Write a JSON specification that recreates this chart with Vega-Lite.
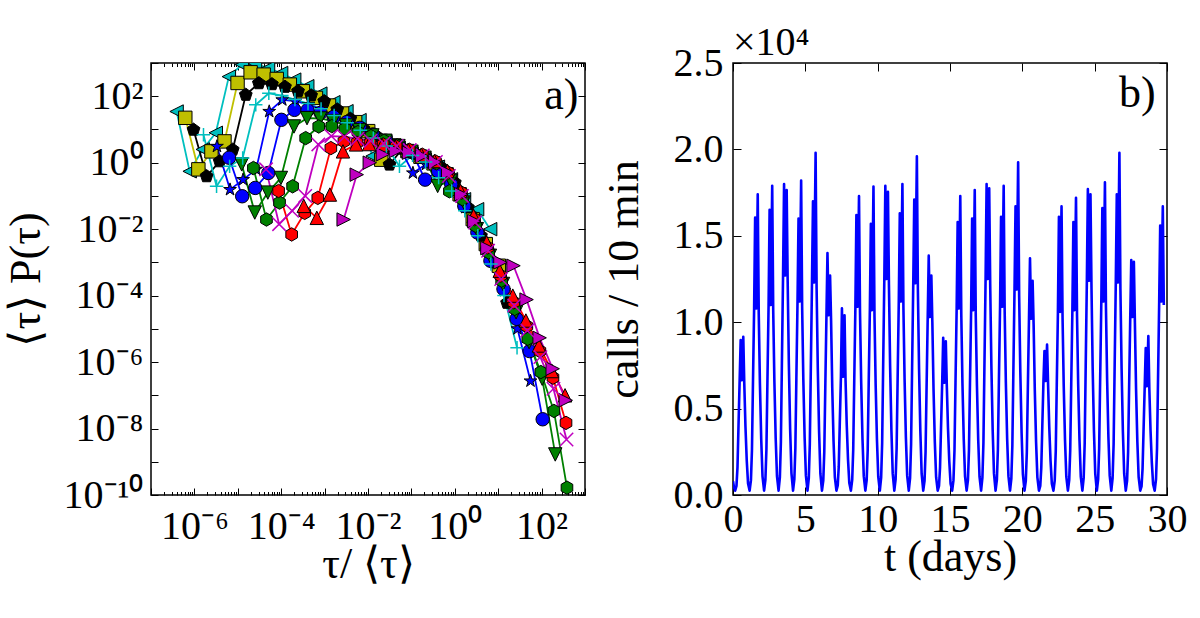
{
"$schema": "https://vega.github.io/schema/vega-lite/v6.json",
"background": "white",
"padding": {"left": 3, "top": 22, "right": 5, "bottom": 5},
"spacing": 148,
"bounds": "flush",
"config": {
  "view": {"stroke": "black", "strokeWidth": 1.5},
  "axis": {"grid": false, "domain": false, "tickColor": "black", "tickWidth": 1, "labelColor": "black", "titleColor": "black", "labelFont": "Liberation Serif", "labelFontSize": 40, "titleFont": "Liberation Serif", "titleFontSize": 44, "titleFontWeight": "normal", "labelOverlap": false, "labelFlush": false, "labelBound": false}
},
"hconcat": [
{
  "width": 434, "height": 432,
  "data": {"values": [
{"s":"ctri","x":3.89e-7,"y":34.7},{"s":"ctri","x":7.78e-7,"y":0.55},{"s":"ctri","x":1.556e-6,"y":2.51},{"s":"ctri","x":3.112e-6,"y":7.94},{"s":"ctri","x":6.224e-6,"y":389},{"s":"ctri","x":1.245e-5,"y":891},{"s":"ctri","x":2.49e-5,"y":955},{"s":"ctri","x":4.979e-5,"y":708},{"s":"ctri","x":9.958e-5,"y":501},{"s":"ctri","x":1.992e-4,"y":316},{"s":"ctri","x":3.983e-4,"y":200},{"s":"ctri","x":7.967e-4,"y":120},{"s":"ctri","x":1.593e-3,"y":66.1},{"s":"ctri","x":3.187e-3,"y":35.5},{"s":"ctri","x":6.373e-3,"y":19.1},{"s":"ctri","x":1.275e-2,"y":1.585},{"s":"ctri","x":2.549e-2,"y":4.17},{"s":"ctri","x":5.099e-2,"y":2.82},{"s":"ctri","x":0.102,"y":1.905},{"s":"ctri","x":0.204,"y":1.259},{"s":"ctri","x":0.408,"y":0.759},{"s":"ctri","x":0.816,"y":0.316},{"s":"ctri","x":1.632,"y":0.0794},{"s":"ctri","x":3.263,"y":0.0398},{"s":"ctri","x":6.527,"y":0.01},
{"s":"ysq","x":6.17e-7,"y":22.4},{"s":"ysq","x":1.234e-6,"y":0.631},{"s":"ysq","x":2.468e-6,"y":2.19},{"s":"ysq","x":4.936e-6,"y":4.37},{"s":"ysq","x":9.872e-6,"y":251},{"s":"ysq","x":1.974e-5,"y":525},{"s":"ysq","x":3.949e-5,"y":447},{"s":"ysq","x":7.898e-5,"y":331},{"s":"ysq","x":1.58e-4,"y":224},{"s":"ysq","x":3.159e-4,"y":141},{"s":"ysq","x":6.318e-4,"y":89.1},{"s":"ysq","x":1.264e-3,"y":52.5},{"s":"ysq","x":2.527e-3,"y":30.2},{"s":"ysq","x":5.054e-3,"y":16.6},{"s":"ysq","x":1.011e-2,"y":8.91},{"s":"ysq","x":2.022e-2,"y":1.23},{"s":"ysq","x":4.044e-2,"y":3.31},{"s":"ysq","x":8.087e-2,"y":2.24},{"s":"ysq","x":0.1617,"y":1.51},{"s":"ysq","x":0.3235,"y":0.955},{"s":"ysq","x":0.647,"y":0.447},{"s":"ysq","x":1.294,"y":0.112},{"s":"ysq","x":2.588,"y":0.02},{"s":"ysq","x":5.176,"y":3.55e-3},{"s":"ysq","x":10.35,"y":7.94e-4},
{"s":"bpent","x":9.55e-7,"y":9.77},{"s":"bpent","x":1.91e-6,"y":0.389},{"s":"bpent","x":3.82e-6,"y":1.096},{"s":"bpent","x":7.64e-6,"y":2.455},{"s":"bpent","x":1.528e-5,"y":110},{"s":"bpent","x":3.056e-5,"y":245},{"s":"bpent","x":6.112e-5,"y":229},{"s":"bpent","x":1.222e-4,"y":191},{"s":"bpent","x":2.445e-4,"y":141},{"s":"bpent","x":4.89e-4,"y":105},{"s":"bpent","x":9.779e-4,"y":70.8},{"s":"bpent","x":1.956e-3,"y":39.8},{"s":"bpent","x":3.912e-3,"y":20.9},{"s":"bpent","x":7.823e-3,"y":10.5},{"s":"bpent","x":1.565e-2,"y":6.31},{"s":"bpent","x":3.129e-2,"y":0.871},{"s":"bpent","x":6.259e-2,"y":2.63},{"s":"bpent","x":0.1252,"y":1.82},{"s":"bpent","x":0.2503,"y":1.202},{"s":"bpent","x":0.5007,"y":0.708},{"s":"bpent","x":1.001,"y":0.251},{"s":"bpent","x":2.003,"y":0.0447},{"s":"bpent","x":4.005,"y":6.31e-3},{"s":"bpent","x":8.011,"y":1e-3},{"s":"bpent","x":16.02,"y":6.03e-5},
{"s":"cplus","x":1.62e-6,"y":6.92},{"s":"cplus","x":3.24e-6,"y":0.195},{"s":"cplus","x":6.48e-6,"y":0.776},{"s":"cplus","x":1.296e-5,"y":1.38},{"s":"cplus","x":2.592e-5,"y":55.0},{"s":"cplus","x":5.184e-5,"y":123},{"s":"cplus","x":1.037e-4,"y":105},{"s":"cplus","x":2.074e-4,"y":79.4},{"s":"cplus","x":4.147e-4,"y":60.3},{"s":"cplus","x":8.294e-4,"y":41.7},{"s":"cplus","x":1.659e-3,"y":26.3},{"s":"cplus","x":3.318e-3,"y":15.8},{"s":"cplus","x":6.636e-3,"y":9.55},{"s":"cplus","x":1.327e-2,"y":5.5},{"s":"cplus","x":2.654e-2,"y":3.16},{"s":"cplus","x":5.308e-2,"y":0.776},{"s":"cplus","x":0.1062,"y":1.66},{"s":"cplus","x":0.2123,"y":1.047},{"s":"cplus","x":0.4247,"y":0.355},{"s":"cplus","x":0.8493,"y":0.141},{"s":"cplus","x":1.699,"y":0.0355},{"s":"cplus","x":3.397,"y":6.31e-3},{"s":"cplus","x":6.795,"y":8.91e-4},{"s":"cplus","x":13.59,"y":1e-4},{"s":"cplus","x":27.18,"y":2.69e-6},
{"s":"bstar","x":3.31e-6,"y":3.09},{"s":"bstar","x":6.62e-6,"y":0.155},{"s":"bstar","x":1.324e-5,"y":0.309},{"s":"bstar","x":2.648e-5,"y":0.631},{"s":"bstar","x":5.296e-5,"y":34.7},{"s":"bstar","x":1.059e-4,"y":77.6},{"s":"bstar","x":2.118e-4,"y":70.8},{"s":"bstar","x":4.237e-4,"y":56.2},{"s":"bstar","x":8.474e-4,"y":39.8},{"s":"bstar","x":1.695e-3,"y":26.3},{"s":"bstar","x":3.39e-3,"y":16.6},{"s":"bstar","x":6.779e-3,"y":10},{"s":"bstar","x":1.356e-2,"y":6.31},{"s":"bstar","x":2.712e-2,"y":3.98},{"s":"bstar","x":5.423e-2,"y":2.82},{"s":"bstar","x":0.1085,"y":0.49},{"s":"bstar","x":0.2169,"y":0.891},{"s":"bstar","x":0.4339,"y":0.501},{"s":"bstar","x":0.8677,"y":0.178},{"s":"bstar","x":1.735,"y":0.0447},{"s":"bstar","x":3.471,"y":7.94e-3},{"s":"bstar","x":6.942,"y":1.12e-3},{"s":"bstar","x":13.88,"y":1.41e-4},{"s":"bstar","x":27.77,"y":1e-5},{"s":"bstar","x":55.53,"y":2.69e-7},
{"s":"bcirc","x":6.31e-6,"y":1.41},{"s":"bcirc","x":1.262e-5,"y":0.0977},{"s":"bcirc","x":2.524e-5,"y":0.174},{"s":"bcirc","x":5.048e-5,"y":0.49},{"s":"bcirc","x":1.01e-4,"y":19.5},{"s":"bcirc","x":2.019e-4,"y":38.9},{"s":"bcirc","x":4.038e-4,"y":38.0},{"s":"bcirc","x":8.077e-4,"y":31.6},{"s":"bcirc","x":1.615e-3,"y":24.0},{"s":"bcirc","x":3.231e-3,"y":16.6},{"s":"bcirc","x":6.461e-3,"y":11.2},{"s":"bcirc","x":1.292e-2,"y":7.08},{"s":"bcirc","x":2.585e-2,"y":4.57},{"s":"bcirc","x":5.169e-2,"y":3.16},{"s":"bcirc","x":0.1034,"y":2.09},{"s":"bcirc","x":0.2068,"y":0.309},{"s":"bcirc","x":0.4135,"y":0.562},{"s":"bcirc","x":0.8271,"y":0.224},{"s":"bcirc","x":1.654,"y":0.0501},{"s":"bcirc","x":3.308,"y":7.94e-3},{"s":"bcirc","x":6.616,"y":1.12e-3},{"s":"bcirc","x":13.23,"y":1.58e-4},{"s":"bcirc","x":26.47,"y":2e-5},{"s":"bcirc","x":52.93,"y":2.14e-6},{"s":"bcirc","x":105.9,"y":1.9e-8},
{"s":"gtri","x":1.23e-5,"y":0.891},{"s":"gtri","x":2.46e-5,"y":0.0316},{"s":"gtri","x":4.92e-5,"y":0.126},{"s":"gtri","x":9.84e-5,"y":0.347},{"s":"gtri","x":1.968e-4,"y":12.3},{"s":"gtri","x":3.936e-4,"y":21.9},{"s":"gtri","x":7.872e-4,"y":21.4},{"s":"gtri","x":1.574e-3,"y":17.8},{"s":"gtri","x":3.149e-3,"y":13.2},{"s":"gtri","x":6.298e-3,"y":9.55},{"s":"gtri","x":1.26e-2,"y":6.61},{"s":"gtri","x":2.519e-2,"y":4.57},{"s":"gtri","x":5.038e-2,"y":3.16},{"s":"gtri","x":0.1008,"y":2.14},{"s":"gtri","x":0.2015,"y":1.41},{"s":"gtri","x":0.403,"y":0.2},{"s":"gtri","x":0.8061,"y":0.282},{"s":"gtri","x":1.612,"y":0.0631},{"s":"gtri","x":3.224,"y":0.01},{"s":"gtri","x":6.449,"y":1.58e-3},{"s":"gtri","x":12.9,"y":2.24e-4},{"s":"gtri","x":25.8,"y":3.16e-5},{"s":"gtri","x":51.59,"y":3.98e-6},{"s":"gtri","x":103.2,"y":3.16e-7},{"s":"gtri","x":206.4,"y":1.66e-9},
{"s":"ghex","x":2.29e-5,"y":0.692},{"s":"ghex","x":4.58e-5,"y":0.0195},{"s":"ghex","x":9.16e-5,"y":0.0631},{"s":"ghex","x":1.832e-4,"y":0.195},{"s":"ghex","x":3.664e-4,"y":5.5},{"s":"ghex","x":7.328e-4,"y":12.3},{"s":"ghex","x":1.466e-3,"y":12.6},{"s":"ghex","x":2.931e-3,"y":10.5},{"s":"ghex","x":5.862e-3,"y":8.32},{"s":"ghex","x":1.172e-2,"y":6.31},{"s":"ghex","x":2.345e-2,"y":4.57},{"s":"ghex","x":4.69e-2,"y":3.31},{"s":"ghex","x":9.38e-2,"y":2.29},{"s":"ghex","x":0.1876,"y":1.51},{"s":"ghex","x":0.3752,"y":0.955},{"s":"ghex","x":0.7504,"y":0.138},{"s":"ghex","x":1.501,"y":0.0794},{"s":"ghex","x":3.002,"y":0.0126},{"s":"ghex","x":6.003,"y":2e-3},{"s":"ghex","x":12.01,"y":2.82e-4},{"s":"ghex","x":24.01,"y":3.98e-5},{"s":"ghex","x":48.03,"y":5.01e-6},{"s":"ghex","x":96.05,"y":5.01e-7},{"s":"ghex","x":192.1,"y":3.39e-8},{"s":"ghex","x":384.2,"y":1.66e-10},
{"s":"mx","x":4.47e-5,"y":0.631},{"s":"mx","x":8.94e-5,"y":0.0141},{"s":"mx","x":1.788e-4,"y":0.0355},{"s":"mx","x":3.576e-4,"y":0.1},{"s":"mx","x":7.152e-4,"y":3.55},{"s":"mx","x":1.43e-3,"y":6.31},{"s":"mx","x":2.861e-3,"y":6.03},{"s":"mx","x":5.722e-3,"y":5.25},{"s":"mx","x":1.144e-2,"y":4.57},{"s":"mx","x":2.289e-2,"y":3.8},{"s":"mx","x":4.577e-2,"y":3.16},{"s":"mx","x":9.155e-2,"y":2.4},{"s":"mx","x":0.1831,"y":1.66},{"s":"mx","x":0.3662,"y":1.047},{"s":"mx","x":0.7324,"y":0.398},{"s":"mx","x":1.465,"y":0.1},{"s":"mx","x":2.93,"y":0.0158},{"s":"mx","x":5.859,"y":2.24e-3},{"s":"mx","x":11.72,"y":3.16e-4},{"s":"mx","x":23.44,"y":5.01e-5},{"s":"mx","x":46.87,"y":8.91e-6},{"s":"mx","x":93.75,"y":1.41e-6},{"s":"mx","x":187.5,"y":1.58e-7},{"s":"mx","x":375,"y":4.68e-9},
{"s":"rhex","x":8.71e-5,"y":0.141},{"s":"rhex","x":1.742e-4,"y":6.92e-3},{"s":"rhex","x":3.484e-4,"y":0.0309},{"s":"rhex","x":6.968e-4,"y":0.0871},{"s":"rhex","x":1.394e-3,"y":2.75},{"s":"rhex","x":2.787e-3,"y":4.37},{"s":"rhex","x":5.574e-3,"y":3.98},{"s":"rhex","x":1.115e-2,"y":3.89},{"s":"rhex","x":2.23e-2,"y":3.55},{"s":"rhex","x":4.46e-2,"y":3.09},{"s":"rhex","x":8.919e-2,"y":2.45},{"s":"rhex","x":0.1784,"y":1.74},{"s":"rhex","x":0.3568,"y":1.096},{"s":"rhex","x":0.7135,"y":0.501},{"s":"rhex","x":1.427,"y":0.126},{"s":"rhex","x":2.854,"y":0.02},{"s":"rhex","x":5.708,"y":2.82e-3},{"s":"rhex","x":11.42,"y":3.98e-4},{"s":"rhex","x":22.83,"y":6.31e-5},{"s":"rhex","x":45.66,"y":1.2e-5},{"s":"rhex","x":91.33,"y":2.14e-6},{"s":"rhex","x":182.7,"y":3.39e-7},{"s":"rhex","x":365.3,"y":1.48e-8},
{"s":"rtri","x":3.31e-4,"y":0.0501},{"s":"rtri","x":6.62e-4,"y":0.0219},{"s":"rtri","x":1.324e-3,"y":0.11},{"s":"rtri","x":2.648e-3,"y":2.19},{"s":"rtri","x":5.296e-3,"y":3.55},{"s":"rtri","x":1.059e-2,"y":3.63},{"s":"rtri","x":2.118e-2,"y":3.39},{"s":"rtri","x":4.237e-2,"y":3.02},{"s":"rtri","x":8.474e-2,"y":2.4},{"s":"rtri","x":0.1695,"y":1.74},{"s":"rtri","x":0.339,"y":1.122},{"s":"rtri","x":0.6779,"y":0.562},{"s":"rtri","x":1.356,"y":0.141},{"s":"rtri","x":2.712,"y":0.0251},{"s":"rtri","x":5.423,"y":3.98e-3},{"s":"rtri","x":10.85,"y":5.62e-4},{"s":"rtri","x":21.69,"y":1e-4},{"s":"rtri","x":43.39,"y":1.78e-5},{"s":"rtri","x":86.77,"y":3.16e-6},{"s":"rtri","x":173.5,"y":5.37e-7},{"s":"rtri","x":347.1,"y":1e-7},
{"s":"mtri","x":2.75e-3,"y":0.0195},{"s":"mtri","x":5.5e-3,"y":0.437},{"s":"mtri","x":1.1e-2,"y":1.0},{"s":"mtri","x":2.2e-2,"y":1.78},{"s":"mtri","x":4.4e-2,"y":2.24},{"s":"mtri","x":8.8e-2,"y":2.0},{"s":"mtri","x":0.176,"y":1.585},{"s":"mtri","x":0.352,"y":1.047},{"s":"mtri","x":0.704,"y":0.501},{"s":"mtri","x":1.408,"y":0.112},{"s":"mtri","x":2.816,"y":0.0174},{"s":"mtri","x":5.632,"y":2.69e-3},{"s":"mtri","x":11.26,"y":1e-3},{"s":"mtri","x":22.53,"y":7.94e-4},{"s":"mtri","x":45.06,"y":7.59e-5},{"s":"mtri","x":90.11,"y":5.37e-6},{"s":"mtri","x":180.2,"y":6.31e-7},{"s":"mtri","x":360.4,"y":7.08e-8}
  ]},
  "layer": [
    {
      "mark": {"type": "line", "clip": true, "strokeWidth": 1.8},
      "encoding": {
        "x": {"field": "x", "type": "quantitative", "scale": {"type": "log", "domain": [1e-7, 1000], "nice": false},
              "axis": {"orient": "bottom", "values": [1e-7,1e-6,1e-5,1e-4,1e-3,0.01,0.1,1,10,100,1000], "tickSize": -7, "labelPadding": 18,
                       "labelExpr": "round(log(datum.value)/LN10)==-6?'10⁻⁶':round(log(datum.value)/LN10)==-4?'10⁻⁴':round(log(datum.value)/LN10)==-2?'10⁻²':round(log(datum.value)/LN10)==0?'10⁰':round(log(datum.value)/LN10)==2?'10²':''",
                       "title": "τ/ ⟨τ⟩", "titleY": 82, "titleBaseline": "alphabetic"}},
        "y": {"field": "y", "type": "quantitative", "scale": {"type": "log", "domain": [1e-10, 1000], "nice": false},
              "axis": {"orient": "left", "values": [1e-10,1e-9,1e-8,1e-7,1e-6,1e-5,1e-4,1e-3,0.01,0.1,1,10,100,1000], "tickSize": -7, "labelPadding": 15,
                       "labelExpr": "round(log(datum.value)/LN10)==2?'10²':round(log(datum.value)/LN10)==0?'10⁰':round(log(datum.value)/LN10)==-2?'10⁻²':round(log(datum.value)/LN10)==-4?'10⁻⁴':round(log(datum.value)/LN10)==-6?'10⁻⁶':round(log(datum.value)/LN10)==-8?'10⁻⁸':round(log(datum.value)/LN10)==-10?'10⁻¹⁰':''",
                       "title": "⟨τ⟩ P(τ)", "titleX": -112, "titleY": 216, "titleAngle": 270, "titleBaseline": "alphabetic"}},
        "color": {"field": "s", "type": "nominal", "legend": null,
                  "scale": {"domain": ["ctri","ysq","bpent","cplus","bstar","bcirc","gtri","ghex","mx","rhex","rtri","mtri"],
                            "range": ["#00bfbf","#bfbf00","#000000","#00bfbf","#0000ff","#0000ff","#008000","#008000","#bf00bf","#ff0000","#ff0000","#bf00bf"]}}
      }
    },
    {
      "transform": [{"filter": {"not": {"field": "s", "oneOf": ["cplus","mx"]}}}],
      "mark": {"type": "point", "filled": true, "clip": true, "opacity": 1, "stroke": "black", "strokeWidth": 1, "size": 180},
      "encoding": {
        "x": {"field": "x", "type": "quantitative", "axis": {"orient": "top", "values": [1e-7,1e-6,1e-5,1e-4,1e-3,0.01,0.1,1,10,100,1000], "tickSize": -7, "labels": false, "title": null}},
        "y": {"field": "y", "type": "quantitative", "axis": {"orient": "right", "values": [1e-10,1e-9,1e-8,1e-7,1e-6,1e-5,1e-4,1e-3,0.01,0.1,1,10,100,1000], "tickSize": -7, "labels": false, "title": null}},
        "fill": {"field": "s", "type": "nominal", "legend": null,
                 "scale": {"domain": ["ctri","ysq","bpent","cplus","bstar","bcirc","gtri","ghex","mx","rhex","rtri","mtri"],
                           "range": ["#00bfbf","#bfbf00","#000000","#00bfbf","#0000ff","#0000ff","#008000","#008000","#bf00bf","#ff0000","#ff0000","#bf00bf"]}},
        "shape": {"field": "s", "type": "nominal", "legend": null,
                  "scale": {"domain": ["ctri","ysq","bpent","cplus","bstar","bcirc","gtri","ghex","mx","rhex","rtri","mtri"],
                            "range": ["M-1,0L1,-1L1,1Z","square","M0,-1L0.951,-0.309L0.588,0.809L-0.588,0.809L-0.951,-0.309Z","M-1,0L1,0M0,-1L0,1","M0,-1L0.2245,-0.309L0.951,-0.309L0.363,0.118L0.588,0.809L0,0.382L-0.588,0.809L-0.363,0.118L-0.951,-0.309L-0.2245,-0.309Z","circle","M0,1L1,-1L-1,-1Z","M0,-1L0.866,-0.5L0.866,0.5L0,1L-0.866,0.5L-0.866,-0.5Z","M-1,-1L1,1M-1,1L1,-1","M0,-1L0.866,-0.5L0.866,0.5L0,1L-0.866,0.5L-0.866,-0.5Z","M0,-1L1,1L-1,1Z","M1,0L-1,-1L-1,1Z"]}}
      }
    },
    {
      "transform": [{"filter": {"field": "s", "oneOf": ["cplus","mx"]}}],
      "mark": {"type": "point", "filled": false, "clip": true, "opacity": 1, "strokeWidth": 1.5, "size": 180},
      "encoding": {
        "x": {"field": "x", "type": "quantitative", "axis": {"orient": "bottom", "tickSize": -3.5, "labels": false, "title": null,
              "values": [2e-7,3e-7,4e-7,5e-7,6e-7,7e-7,8e-7,9e-7,2e-6,3e-6,4e-6,5e-6,6e-6,7e-6,8e-6,9e-6,2e-5,3e-5,4e-5,5e-5,6e-5,7e-5,8e-5,9e-5,2e-4,3e-4,4e-4,5e-4,6e-4,7e-4,8e-4,9e-4,0.002,0.003,0.004,0.005,0.006,0.007,0.008,0.009,0.02,0.03,0.04,0.05,0.06,0.07,0.08,0.09,0.2,0.3,0.4,0.5,0.6,0.7,0.8,0.9,2,3,4,5,6,7,8,9,20,30,40,50,60,70,80,90,200,300,400,500,600,700,800,900]}},
        "y": {"field": "y", "type": "quantitative", "axis": null},
        "color": {"field": "s", "type": "nominal", "legend": null},
        "shape": {"field": "s", "type": "nominal", "legend": null}
      }
    },
    {
      "data": {"values": [{"label": "a)"}]},
      "mark": {"type": "text", "align": "right", "baseline": "alphabetic", "fontSize": 44, "font": "Liberation Serif", "color": "black"},
      "encoding": {
        "x": {"datum": 708, "type": "quantitative", "axis": {"orient": "top", "tickSize": -3.5, "labels": false, "title": null,
              "values": [2e-7,3e-7,4e-7,5e-7,6e-7,7e-7,8e-7,9e-7,2e-6,3e-6,4e-6,5e-6,6e-6,7e-6,8e-6,9e-6,2e-5,3e-5,4e-5,5e-5,6e-5,7e-5,8e-5,9e-5,2e-4,3e-4,4e-4,5e-4,6e-4,7e-4,8e-4,9e-4,0.002,0.003,0.004,0.005,0.006,0.007,0.008,0.009,0.02,0.03,0.04,0.05,0.06,0.07,0.08,0.09,0.2,0.3,0.4,0.5,0.6,0.7,0.8,0.9,2,3,4,5,6,7,8,9,20,30,40,50,60,70,80,90,200,300,400,500,600,700,800,900]}},
        "y": {"datum": 40, "type": "quantitative", "axis": null},
        "text": {"field": "label"}
      }
    }
  ],
  "resolve": {"axis": {"x": "independent", "y": "independent"}}
},
{
  "width": 434, "height": 432,
  "title": {"text": "×10⁴", "anchor": "start", "frame": "group", "offset": -52, "baseline": "alphabetic", "fontSize": 40, "font": "Liberation Serif", "fontWeight": "normal", "color": "black"},
  "layer": [
    {
      "data": {"values": [
{"t":0,"calls":800},{"t":0.07,"calls":450},
{"t":0.15,"calls":250},{"t":0.24,"calls":530},{"t":0.31,"calls":1600},{"t":0.38,"calls":3990},{"t":0.46,"calls":6650},{"t":0.53,"calls":8970},{"t":0.61,"calls":6650},{"t":0.71,"calls":9160},{"t":0.78,"calls":6450},{"t":0.86,"calls":3990},{"t":0.95,"calls":2000},{"t":1.04,"calls":670},
{"t":1.15,"calls":250},{"t":1.24,"calls":860},{"t":1.31,"calls":2590},{"t":1.38,"calls":6480},{"t":1.46,"calls":10800},{"t":1.53,"calls":16050},{"t":1.61,"calls":10800},{"t":1.71,"calls":17400},{"t":1.78,"calls":10480},{"t":1.86,"calls":6480},{"t":1.95,"calls":3240},{"t":2.04,"calls":1080},
{"t":2.15,"calls":250},{"t":2.24,"calls":880},{"t":2.31,"calls":2640},{"t":2.38,"calls":6600},{"t":2.46,"calls":11000},{"t":2.53,"calls":16500},{"t":2.61,"calls":11000},{"t":2.71,"calls":17900},{"t":2.78,"calls":10670},{"t":2.86,"calls":6600},{"t":2.95,"calls":3300},{"t":3.04,"calls":1100},
{"t":3.15,"calls":250},{"t":3.24,"calls":1020},{"t":3.31,"calls":3050},{"t":3.38,"calls":7620},{"t":3.46,"calls":12700},{"t":3.53,"calls":18000},{"t":3.61,"calls":12700},{"t":3.71,"calls":17650},{"t":3.78,"calls":12320},{"t":3.86,"calls":7620},{"t":3.95,"calls":3810},{"t":4.04,"calls":1270},
{"t":4.15,"calls":250},{"t":4.24,"calls":900},{"t":4.31,"calls":2690},{"t":4.38,"calls":6720},{"t":4.46,"calls":11200},{"t":4.53,"calls":16000},{"t":4.61,"calls":11200},{"t":4.71,"calls":18200},{"t":4.78,"calls":10860},{"t":4.86,"calls":6720},{"t":4.95,"calls":3360},{"t":5.04,"calls":1120},
{"t":5.15,"calls":250},{"t":5.24,"calls":980},{"t":5.31,"calls":2950},{"t":5.38,"calls":7380},{"t":5.46,"calls":12300},{"t":5.53,"calls":17000},{"t":5.61,"calls":12300},{"t":5.71,"calls":19800},{"t":5.78,"calls":11930},{"t":5.86,"calls":7380},{"t":5.95,"calls":3690},{"t":6.04,"calls":1230},
{"t":6.15,"calls":250},{"t":6.24,"calls":830},{"t":6.31,"calls":2500},{"t":6.38,"calls":6240},{"t":6.46,"calls":10400},{"t":6.53,"calls":14000},{"t":6.61,"calls":10400},{"t":6.71,"calls":12700},{"t":6.78,"calls":10090},{"t":6.86,"calls":6240},{"t":6.95,"calls":3120},{"t":7.04,"calls":1040},
{"t":7.15,"calls":250},{"t":7.24,"calls":550},{"t":7.31,"calls":1640},{"t":7.38,"calls":4110},{"t":7.46,"calls":6850},{"t":7.53,"calls":10800},{"t":7.61,"calls":6850},{"t":7.71,"calls":10400},{"t":7.78,"calls":6640},{"t":7.86,"calls":4110},{"t":7.95,"calls":2060},{"t":8.04,"calls":690},
{"t":8.15,"calls":250},{"t":8.24,"calls":870},{"t":8.31,"calls":2620},{"t":8.38,"calls":6540},{"t":8.46,"calls":10900},{"t":8.53,"calls":16200},{"t":8.61,"calls":10900},{"t":8.71,"calls":17300},{"t":8.78,"calls":10570},{"t":8.86,"calls":6540},{"t":8.95,"calls":3270},{"t":9.04,"calls":1090},
{"t":9.15,"calls":250},{"t":9.24,"calls":860},{"t":9.31,"calls":2570},{"t":9.38,"calls":6420},{"t":9.46,"calls":10700},{"t":9.53,"calls":15700},{"t":9.61,"calls":10700},{"t":9.71,"calls":17850},{"t":9.78,"calls":10380},{"t":9.86,"calls":6420},{"t":9.95,"calls":3210},{"t":10.04,"calls":1070},
{"t":10.15,"calls":250},{"t":10.24,"calls":1000},{"t":10.31,"calls":3000},{"t":10.38,"calls":7500},{"t":10.46,"calls":12500},{"t":10.53,"calls":17900},{"t":10.61,"calls":12500},{"t":10.71,"calls":17550},{"t":10.78,"calls":12130},{"t":10.86,"calls":7500},{"t":10.95,"calls":3750},{"t":11.04,"calls":1250},
{"t":11.15,"calls":250},{"t":11.24,"calls":900},{"t":11.31,"calls":2690},{"t":11.38,"calls":6720},{"t":11.46,"calls":11200},{"t":11.53,"calls":16300},{"t":11.61,"calls":11200},{"t":11.71,"calls":18000},{"t":11.78,"calls":10860},{"t":11.86,"calls":6720},{"t":11.95,"calls":3360},{"t":12.04,"calls":1120},
{"t":12.15,"calls":250},{"t":12.24,"calls":980},{"t":12.31,"calls":2940},{"t":12.38,"calls":7350},{"t":12.46,"calls":12250},{"t":12.53,"calls":17100},{"t":12.61,"calls":12250},{"t":12.71,"calls":19600},{"t":12.78,"calls":11880},{"t":12.86,"calls":7350},{"t":12.95,"calls":3680},{"t":13.04,"calls":1230},
{"t":13.15,"calls":250},{"t":13.24,"calls":820},{"t":13.31,"calls":2470},{"t":13.38,"calls":6180},{"t":13.46,"calls":10300},{"t":13.53,"calls":13850},{"t":13.61,"calls":10300},{"t":13.71,"calls":12700},{"t":13.78,"calls":9990},{"t":13.86,"calls":6180},{"t":13.95,"calls":3090},{"t":14.04,"calls":1030},
{"t":14.15,"calls":250},{"t":14.24,"calls":520},{"t":14.31,"calls":1560},{"t":14.38,"calls":3900},{"t":14.46,"calls":6500},{"t":14.53,"calls":9100},{"t":14.61,"calls":6500},{"t":14.71,"calls":8900},{"t":14.78,"calls":6300},{"t":14.86,"calls":3900},{"t":14.95,"calls":1950},{"t":15.04,"calls":650},
{"t":15.15,"calls":250},{"t":15.24,"calls":860},{"t":15.31,"calls":2590},{"t":15.38,"calls":6480},{"t":15.46,"calls":10800},{"t":15.53,"calls":15800},{"t":15.61,"calls":10800},{"t":15.71,"calls":17300},{"t":15.78,"calls":10480},{"t":15.86,"calls":6480},{"t":15.95,"calls":3240},{"t":16.04,"calls":1080},
{"t":16.15,"calls":250},{"t":16.24,"calls":860},{"t":16.31,"calls":2570},{"t":16.38,"calls":6420},{"t":16.46,"calls":10700},{"t":16.53,"calls":16000},{"t":16.61,"calls":10700},{"t":16.71,"calls":17650},{"t":16.78,"calls":10380},{"t":16.86,"calls":6420},{"t":16.95,"calls":3210},{"t":17.04,"calls":1070},
{"t":17.15,"calls":250},{"t":17.24,"calls":1000},{"t":17.31,"calls":3000},{"t":17.38,"calls":7500},{"t":17.46,"calls":12500},{"t":17.53,"calls":18000},{"t":17.61,"calls":12500},{"t":17.71,"calls":17750},{"t":17.78,"calls":12130},{"t":17.86,"calls":7500},{"t":17.95,"calls":3750},{"t":18.04,"calls":1250},
{"t":18.15,"calls":250},{"t":18.24,"calls":870},{"t":18.31,"calls":2620},{"t":18.38,"calls":6540},{"t":18.46,"calls":10900},{"t":18.53,"calls":16100},{"t":18.61,"calls":10900},{"t":18.71,"calls":17900},{"t":18.78,"calls":10570},{"t":18.86,"calls":6540},{"t":18.95,"calls":3270},{"t":19.04,"calls":1090},
{"t":19.15,"calls":250},{"t":19.24,"calls":950},{"t":19.31,"calls":2860},{"t":19.38,"calls":7140},{"t":19.46,"calls":11900},{"t":19.53,"calls":16700},{"t":19.61,"calls":11900},{"t":19.71,"calls":19250},{"t":19.78,"calls":11540},{"t":19.86,"calls":7140},{"t":19.95,"calls":3570},{"t":20.04,"calls":1190},
{"t":20.15,"calls":250},{"t":20.24,"calls":820},{"t":20.31,"calls":2450},{"t":20.38,"calls":6120},{"t":20.46,"calls":10200},{"t":20.53,"calls":13700},{"t":20.61,"calls":10200},{"t":20.71,"calls":12400},{"t":20.78,"calls":9890},{"t":20.86,"calls":6120},{"t":20.95,"calls":3060},{"t":21.04,"calls":1020},
{"t":21.15,"calls":250},{"t":21.24,"calls":530},{"t":21.31,"calls":1580},{"t":21.38,"calls":3960},{"t":21.46,"calls":6600},{"t":21.53,"calls":8330},{"t":21.61,"calls":6600},{"t":21.71,"calls":8700},{"t":21.78,"calls":6400},{"t":21.86,"calls":3960},{"t":21.95,"calls":1980},{"t":22.04,"calls":660},
{"t":22.15,"calls":250},{"t":22.24,"calls":850},{"t":22.31,"calls":2540},{"t":22.38,"calls":6360},{"t":22.46,"calls":10600},{"t":22.53,"calls":16100},{"t":22.61,"calls":10600},{"t":22.71,"calls":16700},{"t":22.78,"calls":10280},{"t":22.86,"calls":6360},{"t":22.95,"calls":3180},{"t":23.04,"calls":1060},
{"t":23.15,"calls":250},{"t":23.24,"calls":860},{"t":23.31,"calls":2570},{"t":23.38,"calls":6420},{"t":23.46,"calls":10700},{"t":23.53,"calls":15800},{"t":23.61,"calls":10700},{"t":23.71,"calls":17200},{"t":23.78,"calls":10380},{"t":23.86,"calls":6420},{"t":23.95,"calls":3210},{"t":24.04,"calls":1070},
{"t":24.15,"calls":250},{"t":24.24,"calls":990},{"t":24.31,"calls":2980},{"t":24.38,"calls":7440},{"t":24.46,"calls":12400},{"t":24.53,"calls":17700},{"t":24.61,"calls":12400},{"t":24.71,"calls":17400},{"t":24.78,"calls":12030},{"t":24.86,"calls":7440},{"t":24.95,"calls":3720},{"t":25.04,"calls":1240},
{"t":25.15,"calls":250},{"t":25.24,"calls":900},{"t":25.31,"calls":2690},{"t":25.38,"calls":6720},{"t":25.46,"calls":11200},{"t":25.53,"calls":16600},{"t":25.61,"calls":11200},{"t":25.71,"calls":18100},{"t":25.78,"calls":10860},{"t":25.86,"calls":6720},{"t":25.95,"calls":3360},{"t":26.04,"calls":1120},
{"t":26.15,"calls":250},{"t":26.24,"calls":980},{"t":26.31,"calls":2950},{"t":26.38,"calls":7380},{"t":26.46,"calls":12300},{"t":26.53,"calls":17400},{"t":26.61,"calls":12300},{"t":26.71,"calls":19800},{"t":26.78,"calls":11930},{"t":26.86,"calls":7380},{"t":26.95,"calls":3690},{"t":27.04,"calls":1230},
{"t":27.15,"calls":250},{"t":27.24,"calls":820},{"t":27.31,"calls":2470},{"t":27.38,"calls":6180},{"t":27.46,"calls":10300},{"t":27.53,"calls":13600},{"t":27.61,"calls":10300},{"t":27.71,"calls":13500},{"t":27.78,"calls":9990},{"t":27.86,"calls":6180},{"t":27.95,"calls":3090},{"t":28.04,"calls":1030},
{"t":28.15,"calls":250},{"t":28.24,"calls":500},{"t":28.31,"calls":1510},{"t":28.38,"calls":3780},{"t":28.46,"calls":6300},{"t":28.53,"calls":8500},{"t":28.61,"calls":6300},{"t":28.71,"calls":9200},{"t":28.78,"calls":6110},{"t":28.86,"calls":3780},{"t":28.95,"calls":1890},{"t":29.04,"calls":630},
{"t":29.15,"calls":250},{"t":29.24,"calls":900},{"t":29.31,"calls":2690},{"t":29.38,"calls":6720},{"t":29.46,"calls":11200},{"t":29.53,"calls":15600},{"t":29.61,"calls":11200},{"t":29.71,"calls":16700},{"t":29.78,"calls":11000}
      ]},
      "mark": {"type": "line", "color": "#0000ff", "strokeWidth": 2.6, "strokeJoin": "round", "clip": true},
      "encoding": {
        "x": {"field": "t", "type": "quantitative", "scale": {"domain": [0, 30], "nice": false},
              "axis": {"orient": "bottom", "values": [0,5,10,15,20,25,30], "format": "d", "tickSize": -8, "labelPadding": 12, "title": "t (days)", "titleY": 75, "titleBaseline": "alphabetic"}},
        "y": {"field": "calls", "type": "quantitative", "scale": {"domain": [0, 25000], "nice": false},
              "axis": {"orient": "left", "values": [0,5000,10000,15000,20000,25000], "tickSize": -8, "labelPadding": 18, "labelExpr": "format(datum.value/10000, '.1f')",
                       "title": "calls / 10 min", "titleX": -96, "titleY": 216, "titleAngle": 270, "titleBaseline": "alphabetic"}}
      }
    },
    {
      "data": {"values": [{"label": "b)"}]},
      "mark": {"type": "text", "align": "right", "baseline": "alphabetic", "fontSize": 44, "font": "Liberation Serif", "color": "black"},
      "encoding": {
        "x": {"datum": 29.21, "type": "quantitative", "axis": {"orient": "top", "values": [0,5,10,15,20,25,30], "tickSize": -8, "labels": false, "title": null}},
        "y": {"datum": 22470, "type": "quantitative", "axis": {"orient": "right", "values": [0,5000,10000,15000,20000,25000], "tickSize": -8, "labels": false, "title": null}},
        "text": {"field": "label"}
      }
    }
  ],
  "resolve": {"axis": {"x": "independent", "y": "independent"}}
}
]
}
